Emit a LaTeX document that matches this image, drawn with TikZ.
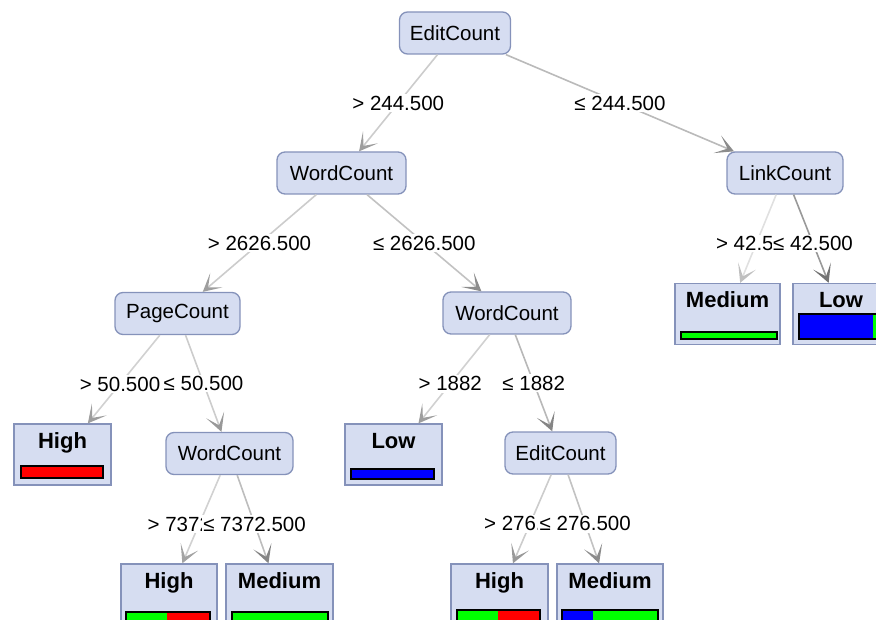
\documentclass[tikz,border=0pt]{standalone}
\usepackage{fontspec}
\setmainfont{Liberation Sans}
\usetikzlibrary{arrows.meta,calc}
\definecolor{nodefill}{HTML}{D6DDF1}
\definecolor{nodeborder}{HTML}{8592BA}
\begin{document}
\begin{tikzpicture}[x=1pt,y=-1pt,
  inner/.style={draw=nodeborder, fill=nodefill, rounded corners=8pt, line width=1.3pt,
    minimum height=42pt, inner sep=0pt, font=\fontsize{20.5}{24}\selectfont},
  leaf/.style={draw=nodeborder, fill=nodefill, line width=1.3pt, minimum height=61pt,
    inner sep=0pt, text height=24pt, text depth=37pt, font=\fontsize{22}{26}\selectfont\bfseries},
  elabel/.style={fill=white, inner sep=1.5pt, font=\fontsize{20.5}{24}\selectfont},
  conn/.style 2 args={draw=#1, line width=1.6pt,
    -{Stealth[length=18pt,width=19pt,inset=11pt,color=#2]}},
  bar/.style={draw=black, line width=1.2pt},
]
\useasboundingbox (0,0) rectangle (876,620);
\clip (0,0) rectangle (876,620);

% internal nodes
\node[inner, minimum width=111pt] (E1) at (455,33) {EditCount};
\node[inner, minimum width=129pt] (W1) at (341.5,173) {WordCount};
\node[inner, minimum width=116pt] (L1) at (785,173) {LinkCount};
\node[inner, minimum width=125pt] (P1) at (177.5,313.5) {PageCount};
\node[inner, minimum width=128pt] (W2) at (507,313) {WordCount};
\node[inner, minimum width=127pt] (W3) at (229.5,453.5) {WordCount};
\node[inner, minimum width=111pt] (E2) at (560.5,453) {EditCount};

% leaves
\node[leaf, minimum width=105pt] (M1) at (727.5,314) {Medium};
\node[leaf, minimum width=96pt] (Lo1) at (841,314) {Low};
\node[leaf, minimum width=97pt] (H1) at (62.5,454.5) {High};
\node[leaf, minimum width=97pt] (Lo2) at (393.5,454.5) {Low};
\node[leaf, minimum width=96pt] (H2) at (169,594.5) {High};
\node[leaf, minimum width=107pt] (M2) at (279.5,594.5) {Medium};
\node[leaf, minimum width=97pt] (H3) at (499.5,594.5) {High};
\node[leaf, minimum width=106pt] (M3) at (610,594.5) {Medium};

% bars
\draw[bar, fill=green] (681,332) rectangle (777,339);
\fill[blue] (799,314) rectangle (873,339);
\fill[green] (873,314) rectangle (883,339);
\draw[bar] (799,314) rectangle (883,339);
\draw[bar, fill=red] (21,466) rectangle (103,478);
\draw[bar, fill=blue] (351,469) rectangle (434,479);
\fill[green] (126,612) rectangle (167,624);
\fill[red] (167,612) rectangle (210,624);
\draw[bar] (126,612) rectangle (210,624);
\draw[bar, fill=green] (232,612) rectangle (328,624);
\fill[green] (457,610) rectangle (498,622);
\fill[red] (498,610) rectangle (540,622);
\draw[bar] (457,610) rectangle (540,622);
\fill[blue] (562,610) rectangle (593,622);
\fill[green] (593,610) rectangle (658,622);
\draw[bar] (562,610) rectangle (658,622);

% connectors
\draw[conn={black!20}{black!38}] (E1) -- (W1);
\node[elabel] (t1) at ($(E1.center)!0.5!(W1.center)$) {> 244.500};
\draw[conn={black!27}{black!45}] (E1) -- (L1);
\node[elabel] (t2) at ($(E1.center)!0.5!(L1.center)$) {≤ 244.500};

\draw[conn={black!20}{black!38}] (W1) -- (P1);
\node[elabel] (t3) at ($(W1.center)!0.5!(P1.center)$) {> 2626.500};
\draw[conn={black!24}{black!45}] (W1) -- (W2);
\node[elabel] (t4) at ($(W1.center)!0.5!(W2.center)$) {≤ 2626.500};

\draw[conn={black!12}{black!25}] (L1) -- (M1);
\node[elabel] (t5) at ($(L1.center)!0.5!(M1.center)$) {> 42.500};
\draw[conn={black!40}{black!55}] (L1) -- (Lo1);
\node[elabel] (t6) at ($(L1.center)!0.5!(Lo1.center)$) {≤ 42.500};

\draw[conn={black!18}{black!38}] (P1) -- (H1);
\node[elabel] (t7) at ($(P1.center)!0.5!(H1.center)$) {> 50.500};
\draw[conn={black!20}{black!40}] (P1) -- (W3);
\node[elabel] (t8) at ($(P1.center)!0.5!(W3.center)$) {≤ 50.500};

\draw[conn={black!18}{black!38}] (W2) -- (Lo2);
\node[elabel] (t9) at ($(W2.center)!0.5!(Lo2.center)$) {> 1882};
\draw[conn={black!28}{black!48}] (W2) -- (E2);
\node[elabel] (t10) at ($(W2.center)!0.5!(E2.center)$) {≤ 1882};

\draw[conn={black!18}{black!36}] (W3) -- (H2);
\node[elabel] (t11) at ($(W3.center)!0.5!(H2.center)$) {> 7372.500};
\draw[conn={black!26}{black!48}] (W3) -- (M2);
\node[elabel] (t12) at ($(W3.center)!0.5!(M2.center)$) {≤ 7372.500};

\draw[conn={black!20}{black!40}] (E2) -- (H3);
\node[elabel] (t13) at ($(E2.center)!0.5!(H3.center)$) {> 276.500};
\draw[conn={black!24}{black!45}] (E2) -- (M3);
\node[elabel] (t14) at ($(E2.center)!0.5!(M3.center)$) {≤ 276.500};
\end{tikzpicture}
\end{document}
